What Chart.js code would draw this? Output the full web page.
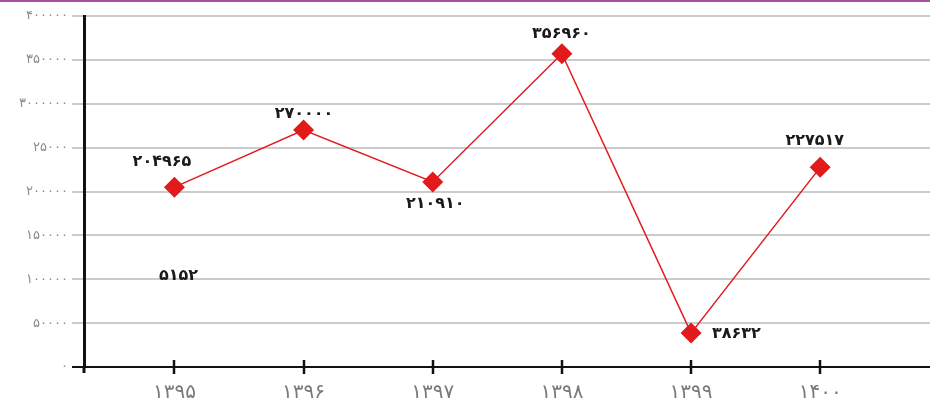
<!DOCTYPE html>
<html>
<head>
<meta charset="utf-8">
<script src="https://cdn.jsdelivr.net/npm/chart.js@4"></script>
<style>
  html, body { margin: 0; padding: 0; background: #fff; overflow: hidden; }
  #wrap { width: 930px; height: 398px; }
  canvas { display: block; }
</style>
</head>
<body>
<div id="wrap"><canvas id="c" width="930" height="398"></canvas></div>
<script>
// Years and the yearly totals
const years = [1395, 1396, 1397, 1398, 1399, 1400];
const yearLabels = ['۱۳۹۵', '۱۳۹۶', '۱۳۹۷', '۱۳۹۸', '۱۳۹۹', '۱۴۰۰'];
const values = [204965, 270000, 210910, 356960, 38632, 227517];
const valueLabels = ['۲۰۴۹۶۵', '۲۷۰۰۰۰', '۲۱۰۹۱۰', '۳۵۶۹۶۰', '۳۸۶۳۲', '۲۲۷۵۱۷'];

// Value axis ticks and their printed labels
const yTickValues = [0, 50000, 100000, 150000, 200000, 250000, 300000, 350000, 400000];
const yTickLabels = ['۰', '۵۰۰۰۰', '۱۰۰۰۰۰', '۱۵۰۰۰۰', '۲۰۰۰۰۰', '۲۵۰۰۰', '۳۰۰۰۰۰۰', '۳۵۰۰۰۰', '۴۰۰۰۰۰'];

// Extra note printed under the first year
const noteYear = 1395;
const noteValue = 104000;
const noteText = '۵۱۵۲';

// Where each value label sits relative to its marker (dx, dy, align)
const labelPlacement = [
  [-15, -25, 'center'],
  [-2, -16, 'center'],
  [0, 22, 'center'],
  [-3, -20, 'center'],
  [21, 1, 'left'],
  [-8, -27, 'center']
];

const FONT = '"DejaVu Sans", "Noto Sans", sans-serif';

const decorations = {
  id: 'decorations',
  beforeDraw(chart) {
    const ctx = chart.ctx;
    ctx.save();
    ctx.fillStyle = '#a4509f';
    ctx.fillRect(0, 0, chart.width, 2);
    ctx.restore();
    ctx.letterSpacing = '2px';
  },
  afterDraw(chart) {
    const ctx = chart.ctx;
    const x = chart.scales.x;
    const area = chart.chartArea;
    ctx.save();
    ctx.strokeStyle = '#111';
    ctx.lineWidth = 2.5;
    x.ticks.forEach(t => {
      const px = Math.round(x.getPixelForValue(t.value));
      ctx.beginPath();
      ctx.moveTo(px, area.bottom - 7);
      ctx.lineTo(px, area.bottom + 7);
      ctx.stroke();
    });
    ctx.lineWidth = 3;
    ctx.beginPath();
    ctx.moveTo(area.left, area.bottom);
    ctx.lineTo(area.left, area.bottom + 6);
    ctx.stroke();
    ctx.restore();
  }
};

const valueLabelsPlugin = {
  id: 'valueLabels',
  afterDatasetsDraw(chart) {
    const ctx = chart.ctx;
    const meta = chart.getDatasetMeta(0);
    ctx.save();
    ctx.font = 'bold 16px ' + FONT;
    ctx.letterSpacing = '5px';
    ctx.fillStyle = '#1a1a1a';
    ctx.textBaseline = 'middle';
    meta.data.forEach((pt, i) => {
      const [dx, dy, align] = labelPlacement[i];
      ctx.textAlign = align;
      ctx.fillText(valueLabels[i], pt.x + dx + (align === 'center' ? 2.5 : 0), pt.y + dy);
    });
    ctx.textAlign = 'center';
    const nx = chart.scales.x.getPixelForValue(noteYear);
    const ny = chart.scales.y.getPixelForValue(noteValue);
    ctx.fillText(noteText, nx + 4, ny);
    ctx.restore();
  }
};

new Chart(document.getElementById('c'), {
  type: 'line',
  data: {
    datasets: [{
      data: years.map((y, i) => ({ x: y, y: values[i] })),
      borderColor: '#e21a1c',
      borderWidth: 1.5,
      backgroundColor: '#e21a1c',
      pointStyle: 'rectRot',
      pointRadius: 10.5,
      pointHoverRadius: 10.5,
      pointBorderWidth: 0,
      tension: 0
    }]
  },
  options: {
    responsive: false,
    animation: false,
    devicePixelRatio: 1,
    layout: { autoPadding: false, padding: { top: 16, left: 0, right: 0, bottom: 0 } },
    plugins: { legend: { display: false }, tooltip: { enabled: false } },
    scales: {
      x: {
        type: 'linear',
        min: 1394.3,
        max: 1400.85,
        afterBuildTicks(scale) { scale.ticks = years.map(v => ({ value: v })); },
        afterFit(scale) { scale.height = 31; scale.paddingLeft = 0; scale.paddingRight = 0; },
        grid: { drawOnChartArea: false, drawTicks: false },
        border: { display: true, color: '#111', width: 2 },
        ticks: {
          padding: 14,
          color: '#7a7a7a',
          font: { family: FONT, size: 20 },
          maxRotation: 0,
          autoSkip: false,
          callback: v => { const i = years.indexOf(v); return i >= 0 ? yearLabels[i] : ''; }
        }
      },
      y: {
        min: 0,
        max: 400000,
        afterBuildTicks(scale) { scale.ticks = yTickValues.map(v => ({ value: v })); },
        afterFit(scale) { scale.width = 84; },
        grid: {
          color: c => (c.tick && c.tick.value === 0 ? '#111' : '#cbcbcb'),
          lineWidth: 2,
          tickLength: 12
        },
        border: { display: true, color: '#111', width: 3 },
        ticks: {
          padding: 4,
          color: '#8c8c8c',
          font: { family: FONT, size: 13 },
          callback: v => { const i = yTickValues.indexOf(v); return i >= 0 ? yTickLabels[i] : ''; }
        }
      }
    }
  },
  plugins: [decorations, valueLabelsPlugin]
});
</script>
</body>
</html>
